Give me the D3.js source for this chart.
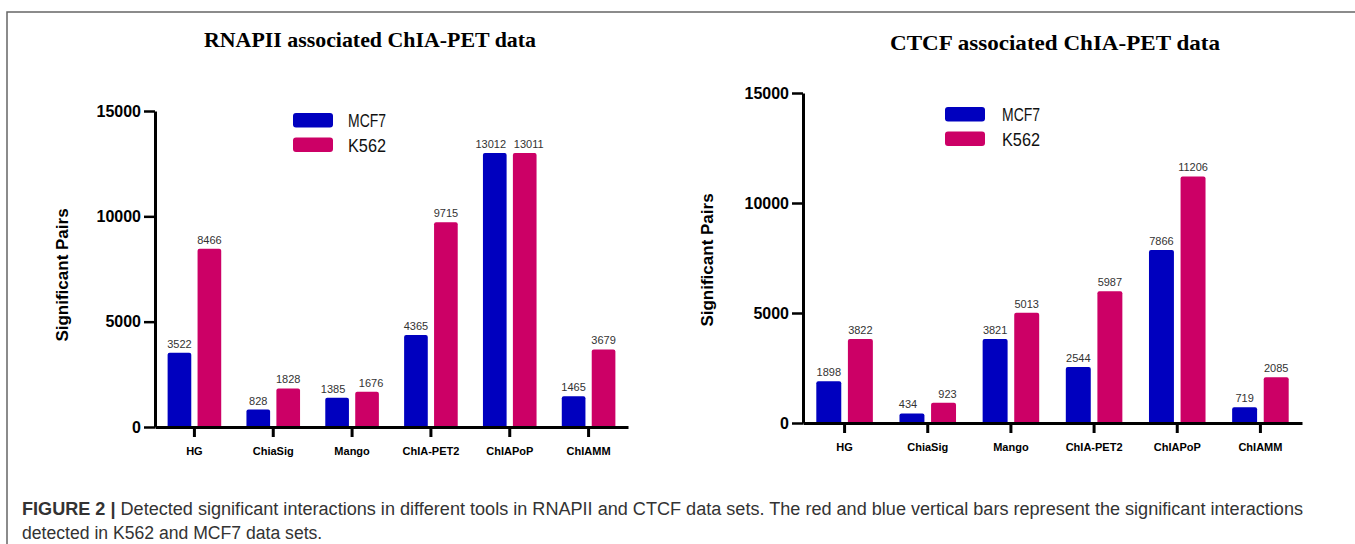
<!DOCTYPE html>
<html>
<head>
<meta charset="utf-8">
<script src="https://cdn.jsdelivr.net/npm/d3@7"></script>
<style>
  body { margin: 0; background: #fff; }
  text { font-family: "Liberation Sans", Arial, sans-serif; }
</style>
</head>
<body>
<script>
var categories = ["HG", "ChiaSig", "Mango", "ChIA-PET2", "ChIAPoP", "ChIAMM"];
var seriesNames = ["MCF7", "K562"];
var seriesColors = ["#0000bf", "#cc0066"];
var yTicks = [0, 5000, 10000, 15000];

var rnapiiMCF7 = [3522, 828, 1385, 4365, 13012, 1465];
var rnapiiK562 = [8466, 1828, 1676, 9715, 13011, 3679];
var ctcfMCF7 = [1898, 434, 3821, 2544, 7866, 719];
var ctcfK562 = [3822, 923, 5013, 5987, 11206, 2085];

var panels = [
  { title: "RNAPII associated ChIA-PET data", values: [rnapiiMCF7, rnapiiK562],
    left: 155, right: 628, bottom: 427, top: 111,
    titleX: 370, titleY: 47, titleW: 332,
    legX: 293, legY: 113, legTextX: 348,
    labX: 68, labY: 275 },
  { title: "CTCF associated ChIA-PET data", values: [ctcfMCF7, ctcfK562],
    left: 803, right: 1302, bottom: 423, top: 93,
    titleX: 1055, titleY: 50, titleW: 330,
    legX: 945, legY: 107, legTextX: 1002,
    labX: 713, labY: 260 }
];

var svg = d3.select("body").append("svg")
    .attr("width", 1355)
    .attr("height", 544);

// frame
svg.append("path")
    .attr("d", "M7,544 L7,12 L1355,12")
    .attr("fill", "none")
    .attr("stroke", "#666")
    .attr("stroke-width", 1.5);

panels.forEach(function (p) {
    var g = svg.append("g");

    var x0 = d3.scaleBand().domain(categories).range([p.left, p.right]);
    var pairW = x0.bandwidth() * 0.68;
    var x1 = d3.scaleBand().domain(seriesNames).range([-pairW / 2, pairW / 2]).paddingInner(0.21);
    var y = d3.scaleLinear().domain([0, 15000]).range([p.bottom, p.top]);

    var rows = [];
    categories.forEach(function (c, i) {
        seriesNames.forEach(function (s, j) {
            var other = p.values[1 - j][i];
            // nudge labels apart when both bars are about the same height
            var close = Math.abs(y(other) - y(p.values[j][i])) < 12;
            rows.push({ cat: c, series: s, idx: j, value: p.values[j][i], nudge: close ? (j === 0 ? -4 : 4) : 0 });
        });
    });

    g.selectAll(".bar")
        .data(rows)
        .enter()
        .append("rect")
        .attr("class", "bar")
        .attr("x", function (d) { return x0(d.cat) + x0.bandwidth() / 2 + x1(d.series); })
        .attr("y", function (d) { return y(d.value); })
        .attr("width", x1.bandwidth())
        .attr("height", function (d) { return y(0) - y(d.value) + 2; })
        .attr("rx", 2)
        .style("fill", function (d) { return seriesColors[d.idx]; });

    g.selectAll(".val")
        .data(rows)
        .enter()
        .append("text")
        .attr("x", function (d) { return x0(d.cat) + x0.bandwidth() / 2 + x1(d.series) + x1.bandwidth() / 2 + d.nudge; })
        .attr("y", function (d) { return y(d.value) - 5; })
        .attr("text-anchor", "middle")
        .style("font-size", "11px")
        .style("fill", "#333")
        .text(function (d) { return d.value; });

    // axes
    var yAxis = g.append("g")
        .attr("transform", "translate(" + p.left + ",0)")
        .call(d3.axisLeft(y).tickValues(yTicks).tickSize(11).tickSizeOuter(0).tickPadding(3).tickFormat(d3.format("d")));
    yAxis.select(".domain").attr("stroke-width", 3);
    yAxis.selectAll(".tick line").attr("stroke-width", 2.5);
    yAxis.selectAll(".tick text")
        .style("font-size", "16px")
        .style("font-weight", "bold")
        .style("font-family", "Liberation Sans, Arial, sans-serif")
        .attr("fill", "#000");

    var xAxis = g.append("g")
        .attr("transform", "translate(0," + p.bottom + ")")
        .call(d3.axisBottom(x0).tickSize(10).tickSizeOuter(0).tickPadding(10));
    xAxis.select(".domain").attr("stroke-width", 3);
    xAxis.selectAll(".tick line").attr("stroke-width", 3);
    xAxis.selectAll(".tick text")
        .style("font-size", "11px")
        .style("font-weight", "bold")
        .style("font-family", "Liberation Sans, Arial, sans-serif")
        .attr("fill", "#000");

    // y label
    g.append("text")
        .attr("transform", "translate(" + p.labX + "," + p.labY + ") rotate(-90)")
        .attr("text-anchor", "middle")
        .style("font-size", "17px")
        .style("font-weight", "bold")
        .text("Significant Pairs");

    // title
    g.append("text")
        .attr("x", p.titleX)
        .attr("y", p.titleY)
        .attr("text-anchor", "middle")
        .attr("textLength", p.titleW)
        .attr("lengthAdjust", "spacingAndGlyphs")
        .style("font-family", "Liberation Serif, Times New Roman, serif")
        .style("font-weight", "bold")
        .style("font-size", "21px")
        .text(p.title);

    // legend
    var leg = g.selectAll(".leg")
        .data(seriesNames)
        .enter()
        .append("g")
        .attr("transform", function (d, i) { return "translate(0," + (p.legY + i * 24.5) + ")"; });
    leg.append("rect")
        .attr("x", p.legX)
        .attr("y", 0)
        .attr("width", 40)
        .attr("height", 14.5)
        .attr("rx", 3)
        .style("fill", function (d, i) { return seriesColors[i]; });
    leg.append("text")
        .attr("x", p.legTextX)
        .attr("y", 14)
        .attr("textLength", 38)
        .attr("lengthAdjust", "spacingAndGlyphs")
        .style("font-size", "19px")
        .style("fill", "#111")
        .text(function (d) { return d; });
});

// caption
var cap = svg.append("g").style("fill", "#333").style("font-size", "17.6px");
var line1 = cap.append("text").attr("x", 22).attr("y", 515)
    .attr("textLength", 1281)
    .attr("lengthAdjust", "spacingAndGlyphs");
line1.append("tspan").style("font-weight", "bold").text("FIGURE 2 | ");
line1.append("tspan").text("Detected significant interactions in different tools in RNAPII and CTCF data sets. The red and blue vertical bars represent the significant interactions");
cap.append("text").attr("x", 22).attr("y", 539)
    .text("detected in K562 and MCF7 data sets.");
</script>
</body>
</html>
